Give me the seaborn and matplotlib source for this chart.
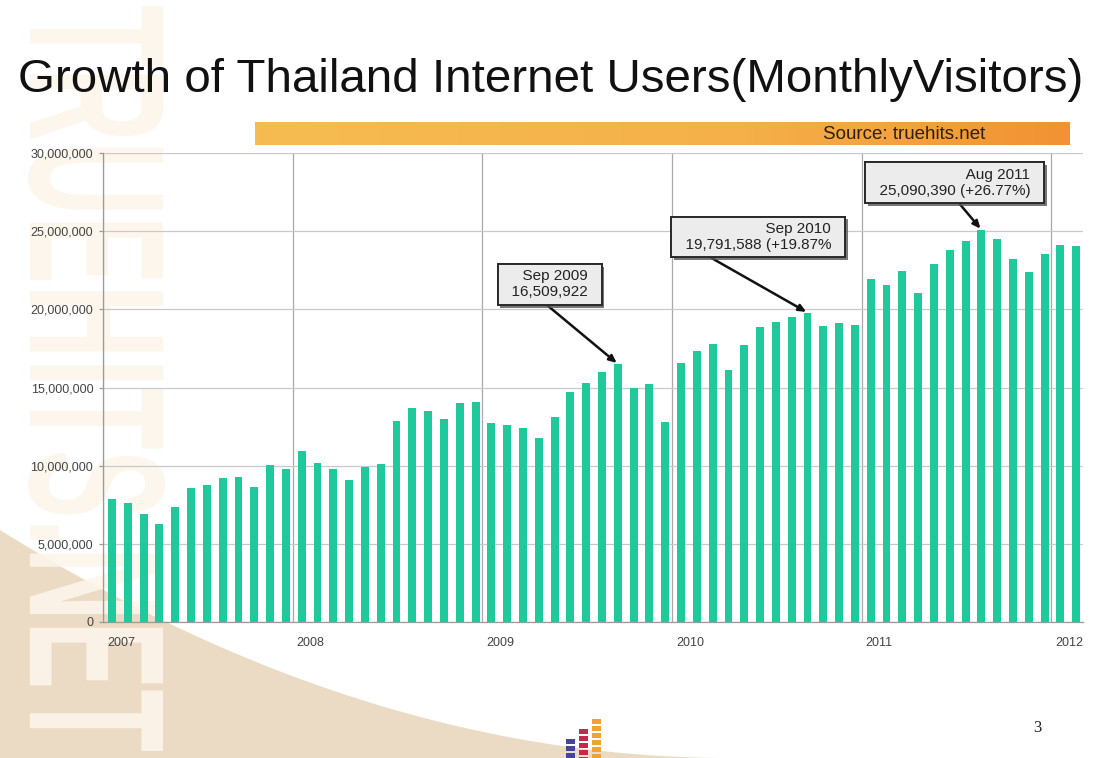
import numpy as np
import pandas as pd
import matplotlib
matplotlib.use("Agg")
import matplotlib.pyplot as plt
import matplotlib.patheffects as pe
from matplotlib.patches import Polygon, Rectangle, PathPatch
from matplotlib.textpath import TextPath
from matplotlib.font_manager import FontProperties
from matplotlib.transforms import Affine2D, ScaledTranslation
from matplotlib.colors import LinearSegmentedColormap
from matplotlib.ticker import FuncFormatter
import seaborn as sns

# ---- data -------------------------------------------------------------
year_labels = ["2007", "2008", "2009", "2010", "2011", "2012"]
month_names = ["Jan", "Feb", "Mar", "Apr", "May", "Jun",
               "Jul", "Aug", "Sep", "Oct", "Nov", "Dec"]
months = [f"{m} {y}" for y in range(2007, 2013) for m in month_names][:62]

# monthly unique visitors, Jan 2007 - Feb 2012
visitors = [
    7850000, 7590000, 6890000, 6250000, 7340000, 8550000,
    8760000, 9230000, 9300000, 8660000, 10040000, 9770000,
    10950000, 10190000, 9770000, 9080000, 9940000, 10090000,
    12860000, 13670000, 13500000, 12990000, 14030000, 14100000,
    12710000, 12580000, 12430000, 11770000, 13100000, 14700000,
    15270000, 16000000, 16509922, 14970000, 15230000, 12800000,
    16590000, 17340000, 17770000, 16120000, 17720000, 18900000,
    19210000, 19530000, 19791588, 18940000, 19110000, 19020000,
    21950000, 21560000, 22480000, 21030000, 22880000, 23800000,
    24400000, 25090390, 24500000, 23220000, 22410000, 23570000,
    24120000, 24060000,
]

callout_months = ["Sep 2009", "Sep 2010", "Aug 2011"]
callout_texts = [
    "Sep 2009\n16,509,922",
    "Sep 2010\n19,791,588 (+19.87%",
    "Aug 2011\n25,090,390 (+26.77%)",
]

title_text = "Growth of Thailand Internet Users(MonthlyVisitors)"
source_text = "Source: truehits.net"

# ---- style ------------------------------------------------------------
sns.set_theme(style="white")
plt.rcParams["font.family"] = ["Liberation Sans", "DejaVu Sans"]

W, H = 1097, 758
fig = plt.figure(figsize=(W / 100, H / 100), dpi=100)
fig.patch.set_facecolor("white")

# background layer in pixel coordinates (y measured from the top)
bg = fig.add_axes([0, 0, 1, 1], zorder=0)
bg.set_xlim(0, W)
bg.set_ylim(0, H)
bg.axis("off")


def fy(py):
    return H - py


# beige swoosh at the lower left
xs = np.linspace(0, 730, 120)
ys = 758 - 228 * (1 - xs / 730) ** 2.0
swoosh = np.column_stack([np.concatenate([[0], xs, [730, 0]]),
                          np.concatenate([[fy(758)], fy(ys), [fy(758), fy(758)]])])
bg.add_patch(Polygon(swoosh, closed=True, fc="#ecdbc4", ec="none", zorder=1))

# pale vertical brand lettering down the left edge
tp = TextPath((0, 0), "TRUEHITS.NET", size=100,
              prop=FontProperties(family="Liberation Sans", weight="bold"))
bb = tp.get_extents()
L_len, L_h = 745, 137
tr = (Affine2D().translate(-bb.x0, -bb.y0)
      .scale(L_len / bb.width, L_h / bb.height)
      .rotate_deg(-90)
      .translate(28, fy(6)))
bg.add_patch(PathPatch(tr.transform_path(tp), fc="#fdf5ec", ec="none",
                       alpha=0.9, zorder=2))

# small logo at the bottom centre
logo_cols = [(566, 739, "#45459a"), (579, 729, "#c8284c"), (592, 719, "#f0a332")]
for cx, top, col in logo_cols:
    y = top
    while y < 758:
        bg.add_patch(Rectangle((cx, fy(y + 5)), 9, 5, fc=col, ec="none", zorder=3))
        y += 7

# page number
bg.text(1037, fy(728), "3", fontsize=12, family="Liberation Serif",
        ha="center", va="center", color="#222222", zorder=3)

# title
bg.text(18, fy(80), title_text, fontsize=34.2, ha="left", va="center",
        color="#111111", zorder=3)

# orange source band with a gradient
src_ax = fig.add_axes([255 / W, 1 - 145 / H, 815 / W, 23 / H], zorder=1)
cmap = LinearSegmentedColormap.from_list(
    "band", [(0, "#f5bc52"), (0.6, "#f5b049"), (1, "#f29232")])
src_ax.imshow(np.linspace(0, 1, 256)[None, :], aspect="auto", cmap=cmap,
              extent=[0, 1, 0, 1])
src_ax.set_xlim(0, 1)
src_ax.set_ylim(0, 1)
src_ax.axis("off")
src_ax.text((823 - 255) / 815, 0.47, source_text, fontsize=13.5,
            ha="left", va="center", color="#2e2008")

# ---- main bar chart ---------------------------------------------------
ax = fig.add_axes([103 / W, 1 - 622 / H, 980 / W, 469 / H], zorder=2)
ax.set_facecolor("none")

df = pd.DataFrame({"month": months,
                   "pos": np.arange(len(visitors)) + 0.57,
                   "visitors": visitors})
sns.barplot(data=df, x="pos", y="visitors", native_scale=True, width=0.5,
            color="#1fc99b", saturation=1, linewidth=0, errorbar=None, ax=ax)

ax.set_xlim(0, 62)
ax.set_ylim(0, 30_000_000)
ax.set_xlabel("")
ax.set_ylabel("")
ax.set_xticks(np.arange(0, 61, 12))
ax.set_xticklabels(year_labels)
ax.set_yticks(np.arange(0, 30_000_001, 5_000_000))
ax.yaxis.set_major_formatter(FuncFormatter(lambda v, _: f"{int(v):,}"))

ax.set_axisbelow(True)
ax.yaxis.grid(True, color="#c9c9c9", lw=0.9)
ax.xaxis.grid(True, color="#a9a9a9", lw=0.9)
for side in ["top", "right"]:
    ax.spines[side].set_visible(False)
for side in ["left", "bottom"]:
    ax.spines[side].set_color("#9a9a9a")
    ax.spines[side].set_linewidth(0.9)

ax.tick_params(axis="y", labelsize=9, labelcolor="#444444", length=3,
               color="#9a9a9a", width=0.9, pad=4, left=True)
ax.tick_params(axis="x", labelsize=9, labelcolor="#444444", length=0, pad=11)
shift = ScaledTranslation(4 / 100, 0, fig.dpi_scale_trans)
for lab in ax.get_xticklabels():
    lab.set_horizontalalignment("left")
    lab.set_transform(lab.get_transform() + shift)

# callout boxes
callout_xy = [(31.2, 21.6e6, 0.4), (46.6, 24.63e6, 0.15), (59.2, 28.09e6, 0.5)]
for name, txt, (tx, ty, rp) in zip(callout_months, callout_texts, callout_xy):
    i = months.index(name)
    padded = "\n".join(f"  {ln}  " for ln in txt.split("\n"))
    ann = ax.annotate(
        padded, xy=(df["pos"][i], visitors[i]), xytext=(tx, ty),
        ha="right", va="center", multialignment="right",
        fontsize=11, color="#222222",
        bbox=dict(boxstyle="square,pad=0.35", fc="#ececec", ec="#2a2a2a", lw=1.4),
        arrowprops=dict(arrowstyle="-|>,head_length=0.4,head_width=0.18",
                        color="#111111", lw=1.8, relpos=(rp, 0),
                        shrinkA=0, shrinkB=1),
        zorder=5)
    ann.get_bbox_patch().set_path_effects(
        [pe.withSimplePatchShadow(offset=(2, -2), shadow_rgbFace="#555555", alpha=0.8),
         pe.Normal()])

fig.savefig("out.png", dpi=100, facecolor="white")
